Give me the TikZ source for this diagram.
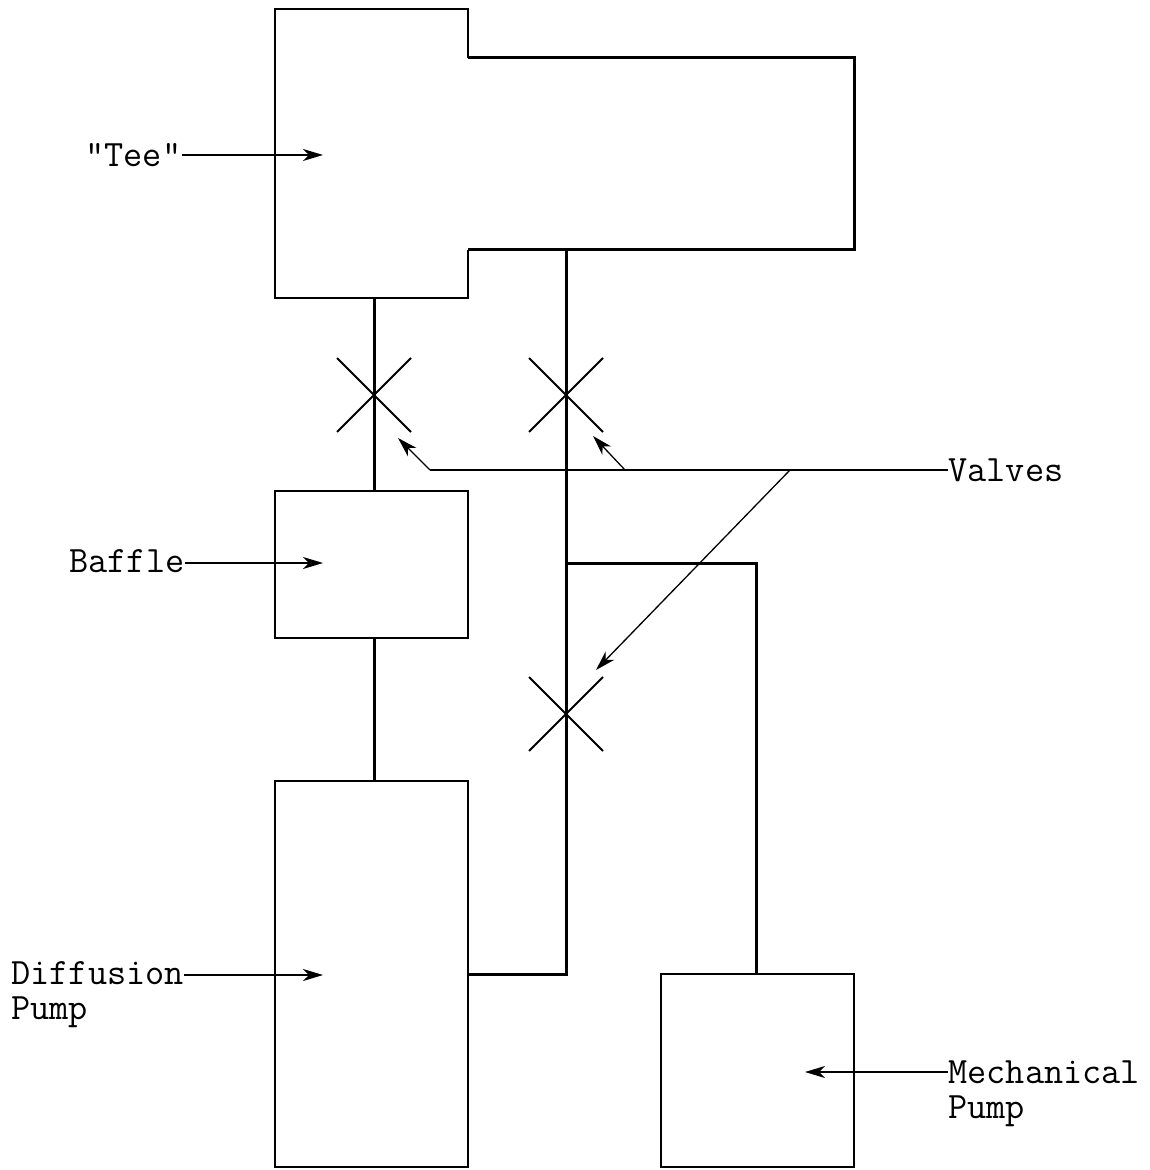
\documentclass[tikz,border=0pt]{standalone}
\usetikzlibrary{arrows.meta,shapes.misc}

\tikzset{
    unitbox/.style={draw, line width=1.3pt, inner sep=0pt, outer sep=0pt, anchor=north west},
    pipe/.style={line width=1.5pt},
    valve/.style={cross out, draw, line width=0.9pt, inner sep=0pt, outer sep=0pt, minimum size=37pt},
    leader/.style={line width=0.65pt},
    pointer/.style={leader, -{Stealth[length=10pt,width=6pt,inset=3pt]}},
    tag/.style={font=\ttfamily\fontsize{18.6}{17.5}\selectfont, align=left, anchor=west, inner sep=0pt}
}

\begin{document}
\begin{tikzpicture}[x=0.5pt,y=-0.5pt]
    \useasboundingbox (0,0) rectangle (1149,1170);

    % vessels and pumps
    \draw[line width=1.3pt] (468,58) -- (468,9) -- (275,9) -- (275,298) -- (468,298) -- (468,250);
    \draw[line width=1.5pt] (468,58) -- (854,58) -- (854,250) -- (468,250);
    \coordinate (teeneck) at (374,298);
    \coordinate (teearm) at (566,250);
    \node[unitbox, minimum width=96.5pt, minimum height=73.5pt] (baffle) at (275,491) {};
    \node[unitbox, minimum width=96.5pt, minimum height=193pt] (diffusion) at (275,781) {};
    \node[unitbox, minimum width=96.5pt, minimum height=96.5pt] (mechanical) at (661,974) {};

    % valves
    \foreach \name/\x/\y in {valveA/374/395,valveB/566/395,valveC/566/714}
    {
        \node[valve] (\name) at (\x,\y) {};
    }

    % piping
    \coordinate (tjoint) at (566,563);
    \coordinate (diffout) at (566,974);
    \coordinate (mechtop) at (756,563);
    \draw[pipe] (teeneck) -- (baffle.north -| teeneck);
    \draw[pipe] (baffle.south -| teeneck) -- (diffusion.north -| teeneck);
    \draw[pipe] (teearm) -- (diffout) -- (diffusion.east |- diffout);
    \draw[pipe] (tjoint) -- (mechtop) -- (mechanical.north -| mechtop);

    % labels
    \node[tag] (teetag) at (85,155) {"Tee"};
    \node[tag] (baffletag) at (69,561) {Baffle};
    \node[tag, anchor=north west] (difftag) at (11,961) {Diffusion\\Pump};
    \node[tag, anchor=north west] (mechtag) at (948,1060) {Mechanical\\Pump};
    \node[tag] (valvetag) at (948,470) {Valves};

    \coordinate (teetip) at (323,155);
    \coordinate (baffletip) at (323,563);
    \coordinate (difftip) at (323,975);
    \coordinate (mechtip) at (805,1072);
    \coordinate (difftail) at (184,975);
    \coordinate (mechtail) at (948,1072);
    \draw[pointer] (teetag.east) -- (teetip);
    \draw[pointer] (baffletag.east |- baffletip) -- (baffletip);
    \draw[pointer] (difftail) -- (difftip);
    \draw[pointer] (mechtail) -- (mechtip);

    % valve leaders
    \coordinate (bendA) at (430,470);
    \coordinate (bendB) at (625,470);
    \coordinate (bendC) at (790,470);
    \coordinate (tipA) at (398,438);
    \coordinate (tipB) at (593,436);
    \coordinate (tipC) at (596,670);
    \draw[leader] (valvetag.west) -- (bendA);
    \draw[pointer] (bendA) -- (tipA);
    \draw[pointer] (bendB) -- (tipB);
    \draw[pointer] (bendC) -- (tipC);
\end{tikzpicture}
\end{document}
